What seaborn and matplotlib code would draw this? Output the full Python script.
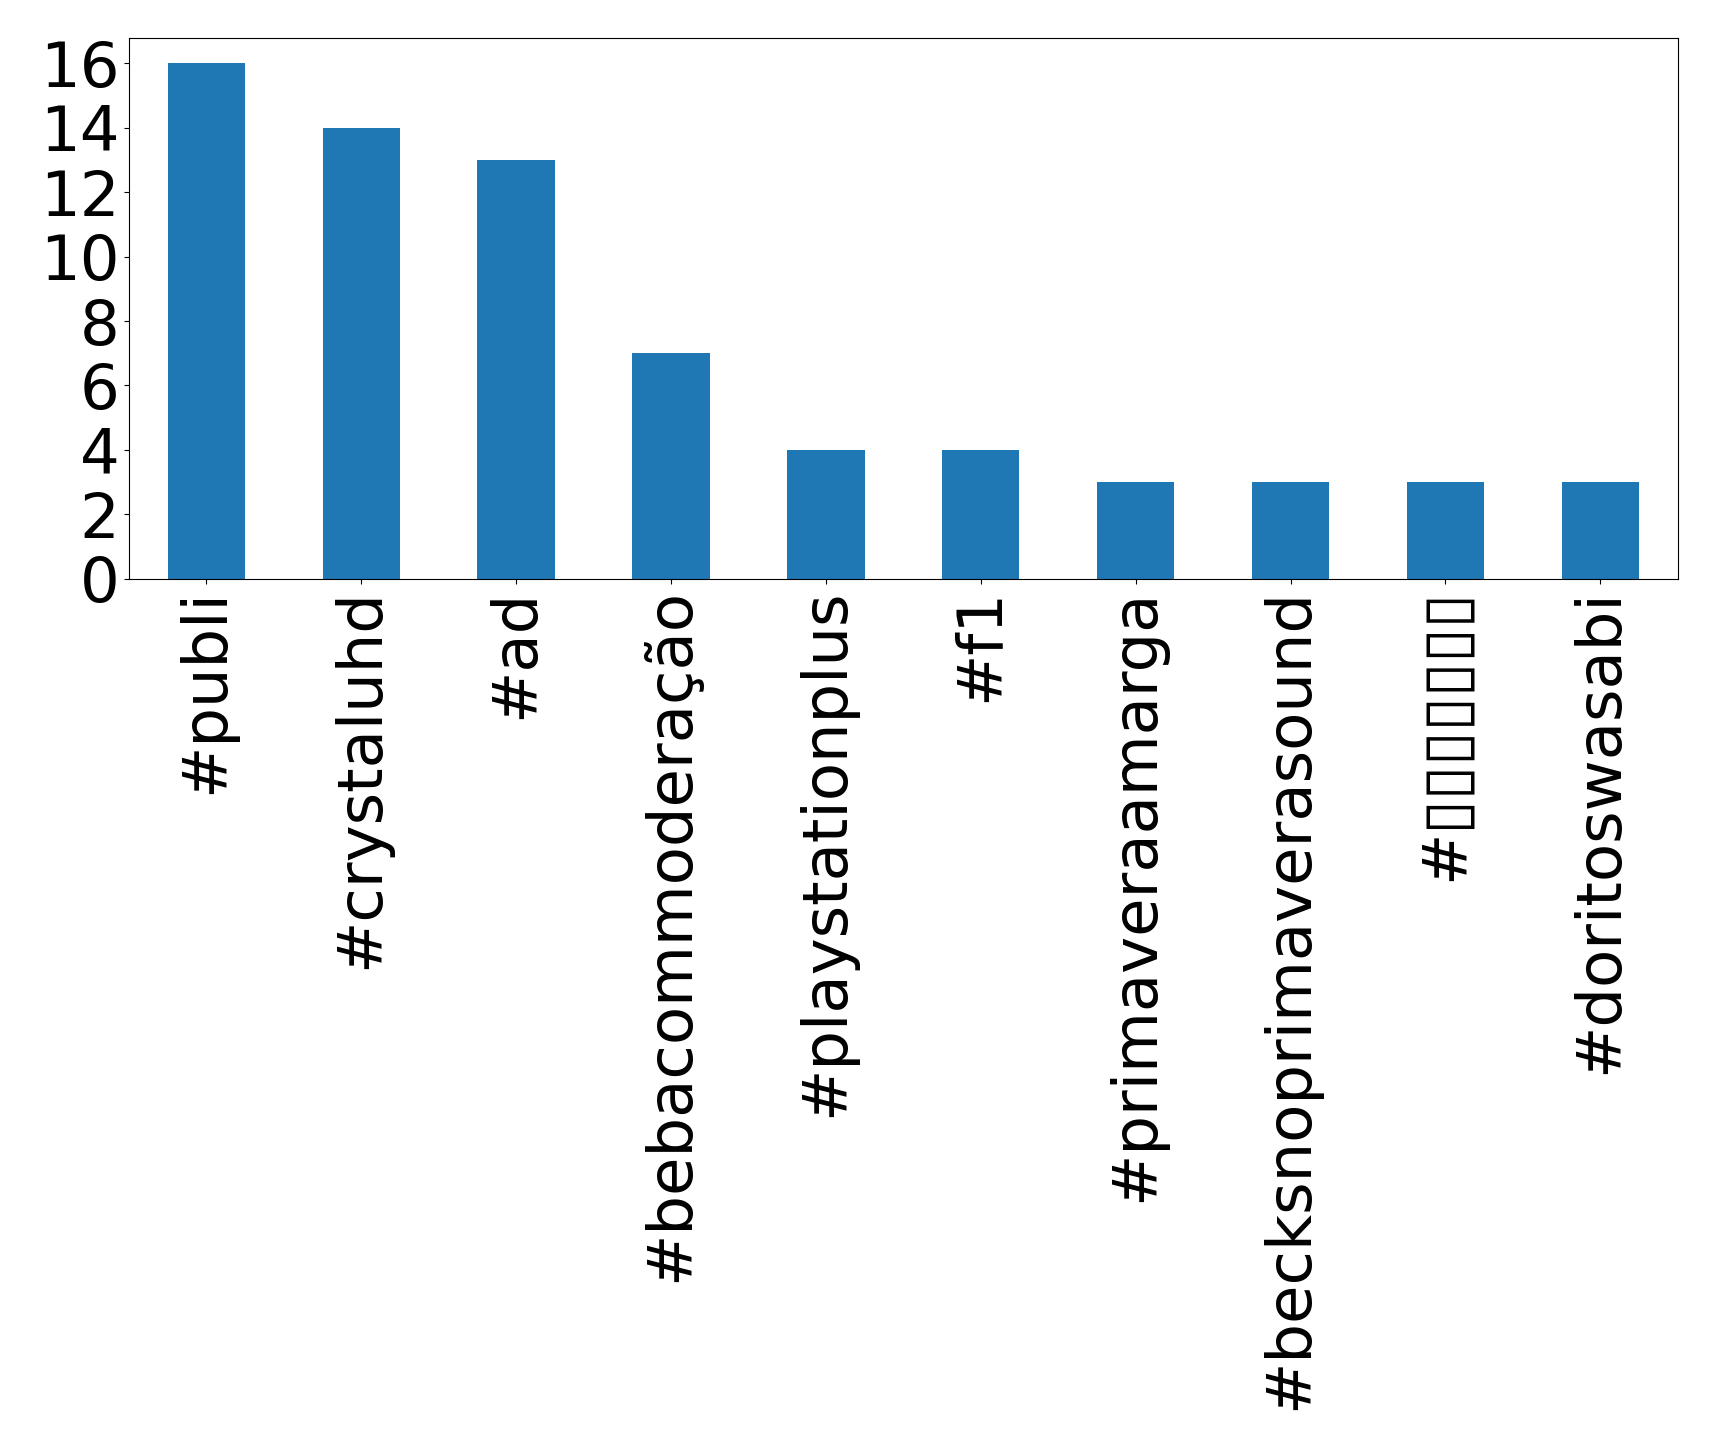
import matplotlib
matplotlib.use("Agg")
import matplotlib.pyplot as plt
import seaborn as sns

# Top hashtags and how often they appear
hashtags = ['#publi', '#crystaluhd', '#ad', '#bebacommoderação', '#playstationplus',
            '#f1', '#primaveraamarga', '#becksnoprimaverasound', '#▯▯▯▯▯▯▯', '#doritoswasabi']
counts = [16, 14, 13, 7, 4, 4, 3, 3, 3, 3]

plt.rcParams['font.family'] = ['DejaVu Sans']

fig, ax = plt.subplots(figsize=(17.19, 14.5), dpi=100)
fig.subplots_adjust(left=0.075, right=0.976, top=0.974, bottom=0.601)

sns.barplot(x=hashtags, y=counts, color='#1f77b4', saturation=1, width=0.5, ax=ax)
ax.set_xlim(-0.5, len(hashtags) - 0.5)
ax.set_ylim(0, 16.8)
ax.set_yticks(range(0, 17, 2))
ax.tick_params(axis='both', labelsize=45)
ax.tick_params(axis='x', labelrotation=90)
ax.set_xlabel('')
ax.set_ylabel('')

plt.savefig('out.png', dpi=100)
plt.close()
